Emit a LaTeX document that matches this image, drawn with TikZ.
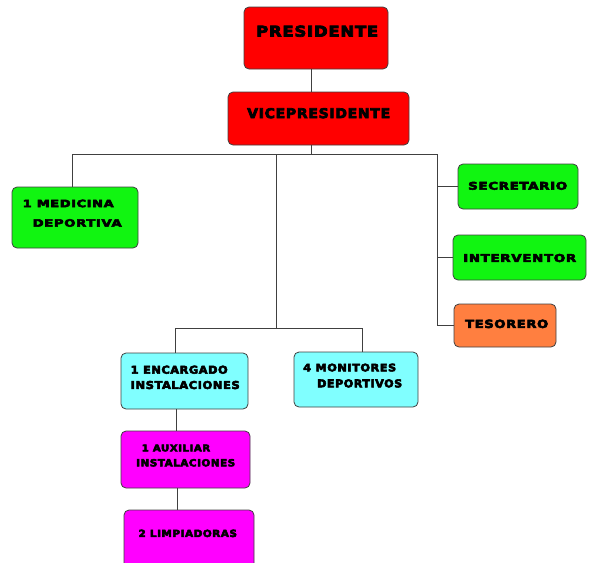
\documentclass[tikz,border=0pt]{standalone}
\usepackage{fontspec}
\setmainfont{DejaVu Sans}
\newfontfamily\lblfont[LetterSpace=5, FakeBold=5]{DejaVu Sans}
\usepackage{graphicx}
\definecolor{cred}{HTML}{FF0000}
\definecolor{cgreen}{HTML}{11F511}
\definecolor{ccyan}{HTML}{80FFFF}
\definecolor{cmag}{HTML}{FF00FF}
\definecolor{corange}{HTML}{FF7F40}
\definecolor{cline}{HTML}{404040}
\tikzset{
  orgbox/.style={draw=black!75, line width=0.8pt, rounded corners=5pt, inner sep=0pt},
  conn/.style={draw=cline, line width=0.9pt},
  lbl/.style={anchor=south west, inner sep=0pt}
}
\newcommand\lbltext[6]{\node[lbl] (#1) at (#2,#3) {\resizebox{#4pt}{#5pt}{\lblfont\bfseries #6}};}
\begin{document}
\begin{tikzpicture}[x=1pt,y=-1pt]
\useasboundingbox (0,0) rectangle (594,562);
\clip (0,0) rectangle (594,562);
% boxes
\node[orgbox, fill=cred, minimum width=144pt, minimum height=62pt] (pres) at (316,38) {};
\node[orgbox, fill=cred, minimum width=181pt, minimum height=53pt] (vice) at (318.5,118.5) {};
\node[orgbox, fill=cgreen, minimum width=126pt, minimum height=61pt] (med) at (75,217.5) {};
\node[orgbox, fill=cgreen, minimum width=120pt, minimum height=45pt] (sec) at (518,186.5) {};
\node[orgbox, fill=cgreen, minimum width=133pt, minimum height=45pt] (int) at (519.5,257.5) {};
\node[orgbox, fill=corange, minimum width=102pt, minimum height=43pt] (tes) at (505,325.5) {};
\node[orgbox, fill=ccyan, minimum width=127pt, minimum height=56pt] (enc) at (184.5,381) {};
\node[orgbox, fill=ccyan, minimum width=124pt, minimum height=55pt] (mon) at (356,379.5) {};
\node[orgbox, fill=cmag, minimum width=129pt, minimum height=57pt] (aux) at (185.5,459.5) {};
\node[orgbox, fill=cmag, minimum width=130pt, minimum height=62pt] (lim) at (189,541) {};
% junctions
\coordinate (j0) at (311,154);
\coordinate (jl) at (72,154);
\coordinate (jr) at (437,154);
\coordinate (jm) at (276,154);
\coordinate (jm2) at (276,328);
\coordinate (jea) at (175,328);
\coordinate (jmo) at (362,328);
\coordinate (ja) at (176,0);
\coordinate (jb) at (177,0);
% connectors
\draw[conn] (pres.south -| j0) -- (vice.north -| j0);
\draw[conn] (vice.south -| j0) -- (j0);
\draw[conn] (med.north -| jl) -- (jl) -- (jr) |- (tes.west);
\draw[conn] (sec.west) -- (sec.west -| jr);
\draw[conn] (int.west) -- (int.west -| jr);
\draw[conn] (jm) -- (jm2);
\draw[conn] (enc.north -| jea) -- (jea) -- (jmo) -- (mon.north -| jmo);
\draw[conn] (enc.south -| ja) -- (aux.north -| ja);
\draw[conn] (aux.south -| jb) -- (lim.north -| jb);
% labels
\lbltext{tpres}{256}{37}{122}{11}{PRESIDENTE}
\lbltext{tvice}{247}{118.5}{143}{10}{VICEPRESIDENTE}
\lbltext{tmed1}{22.5}{207.5}{91}{7.5}{1 MEDICINA}
\lbltext{tmed2}{32.5}{227}{89}{7.5}{DEPORTIVA}
\lbltext{tsec}{468}{190}{99}{7.8}{SECRETARIO}
\lbltext{tint}{463}{262.3}{113}{8}{INTERVENTOR}
\lbltext{ttes}{465}{328.3}{83}{8.3}{TESORERO}
\lbltext{tenc1}{130.5}{374}{97}{8}{1 ENCARGADO}
\lbltext{tenc2}{130.5}{389.3}{109}{8}{INSTALACIONES}
\lbltext{tmon1}{303}{371.7}{93}{7.7}{4 MONITORES}
\lbltext{tmon2}{317}{387.7}{85}{8}{DEPORTIVOS}
\lbltext{taux1}{141.5}{451.7}{68.5}{6.8}{1 AUXILIAR}
\lbltext{taux2}{136}{466.7}{99}{7.3}{INSTALACIONES}
\lbltext{tlim}{138.3}{537.3}{98.5}{7.3}{2 LIMPIADORAS}
\end{tikzpicture}
\end{document}
